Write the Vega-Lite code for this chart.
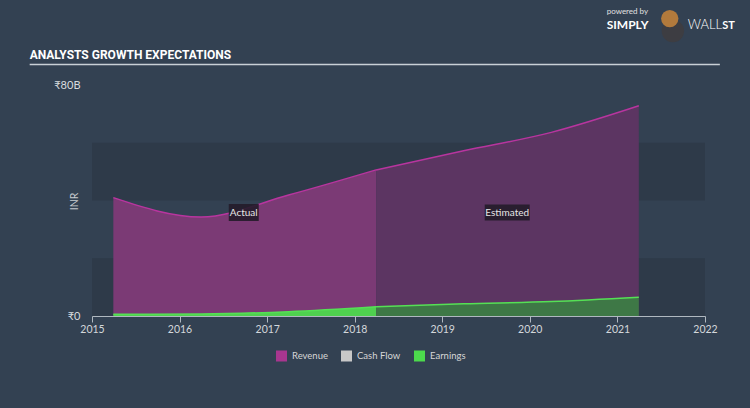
{
  "$schema": "https://vega.github.io/schema/vega-lite/v6.json",
  "width": 613,
  "height": 231,
  "autosize": {"type": "none"},
  "padding": {"left": 92, "top": 85, "right": 45, "bottom": 92},
  "background": "#334152",
  "config": {"view": {"stroke": null}, "font": "Lato"},
  "data": {
    "values": [
      {"date": "2015-03-31", "series": "Revenue", "phase": "Actual", "value": 41000000000},
      {"date": "2016-03-31", "series": "Revenue", "phase": "Actual", "value": 34300000000},
      {"date": "2017-03-31", "series": "Revenue", "phase": "Actual", "value": 41900000000},
      {"date": "2018-03-31", "series": "Revenue", "phase": "Actual", "value": 50600000000},
      {"date": "2018-03-31", "series": "Revenue", "phase": "Estimated", "value": 50600000000},
      {"date": "2019-03-31", "series": "Revenue", "phase": "Estimated", "value": 57200000000},
      {"date": "2020-03-31", "series": "Revenue", "phase": "Estimated", "value": 63600000000},
      {"date": "2021-03-31", "series": "Revenue", "phase": "Estimated", "value": 72800000000},
      {"date": "2015-03-31", "series": "Earnings", "phase": "Actual", "value": 600000000},
      {"date": "2016-03-31", "series": "Earnings", "phase": "Actual", "value": 700000000},
      {"date": "2017-03-31", "series": "Earnings", "phase": "Actual", "value": 1500000000},
      {"date": "2018-03-31", "series": "Earnings", "phase": "Actual", "value": 3200000000},
      {"date": "2018-03-31", "series": "Earnings", "phase": "Estimated", "value": 3200000000},
      {"date": "2019-03-31", "series": "Earnings", "phase": "Estimated", "value": 4200000000},
      {"date": "2020-03-31", "series": "Earnings", "phase": "Estimated", "value": 5000000000},
      {"date": "2021-03-31", "series": "Earnings", "phase": "Estimated", "value": 6500000000}
    ]
  },
  "layer": [
    {
      "data": {"values": [{"lo": 0, "hi": 20000000000}, {"lo": 40000000000, "hi": 60000000000}]},
      "mark": {"type": "rect", "color": "#2e3a49"},
      "encoding": {
        "x": {
          "datum": {"year": 2015, "month": 1, "date": 1, "utc": true}, "type": "temporal",
          "scale": {"type": "utc", "domain": [{"year": 2015, "month": 1, "date": 1, "utc": true}, {"year": 2022, "month": 1, "date": 1, "utc": true}]},
          "axis": {
            "values": [
              {"year": 2015, "month": 1, "date": 1, "utc": true},
              {"year": 2016, "month": 1, "date": 1, "utc": true},
              {"year": 2017, "month": 1, "date": 1, "utc": true},
              {"year": 2018, "month": 1, "date": 1, "utc": true},
              {"year": 2019, "month": 1, "date": 1, "utc": true},
              {"year": 2020, "month": 1, "date": 1, "utc": true},
              {"year": 2021, "month": 1, "date": 1, "utc": true},
              {"year": 2022, "month": 1, "date": 1, "utc": true}
            ],
            "format": "%Y", "title": null, "grid": false,
            "domainColor": "#b0b8c0", "tickColor": "#b0b8c0", "tickSize": 6,
            "labelColor": "#d4d7db", "labelFontSize": 10.5, "labelFont": "Lato",
            "labelPadding": 2, "labelFlush": false, "labelOverlap": false
          }
        },
        "x2": {"datum": {"year": 2022, "month": 1, "date": 1, "utc": true}},
        "y": {
          "field": "lo", "type": "quantitative",
          "scale": {"domain": [0, 80000000000], "nice": false},
          "axis": {
            "values": [0, 80000000000],
            "labelExpr": "datum.value == 0 ? '₹0' : '₹80B'",
            "title": "INR", "grid": false, "domain": false, "ticks": false, "tickSize": 0,
            "labelPadding": 12, "labelColor": "#d8dbde", "labelFontSize": 11, "labelFont": "Lato",
            "labelFlush": false, "labelBaseline": "middle",
            "titleX": -18, "titleY": 116, "titleBaseline": "middle", "titleAlign": "center",
            "titleFontWeight": "normal", "titleFontSize": 10.5, "titleColor": "#c8ccd0", "titleFont": "Lato"
          }
        },
        "y2": {"field": "hi"}
      }
    },
    {
      "transform": [{"filter": "datum.series == 'Revenue' && datum.phase == 'Actual'"}],
      "mark": {"type": "area", "interpolate": "monotone", "fill": "#7b3a75", "opacity": 1},
      "encoding": {
        "x": {"field": "date", "type": "temporal"},
        "y": {"field": "value", "type": "quantitative"}
      }
    },
    {
      "transform": [{"filter": "datum.series == 'Revenue' && datum.phase == 'Estimated'"}],
      "mark": {"type": "area", "interpolate": "monotone", "fill": "#5c3562", "opacity": 1},
      "encoding": {
        "x": {"field": "date", "type": "temporal"},
        "y": {"field": "value", "type": "quantitative"}
      }
    },
    {
      "transform": [{"filter": "datum.series == 'Revenue'"}],
      "mark": {"type": "line", "interpolate": "monotone", "stroke": "#b8359f", "strokeWidth": 1.5},
      "encoding": {
        "x": {"field": "date", "type": "temporal"},
        "y": {"field": "value", "type": "quantitative"},
        "detail": {"field": "phase"}
      }
    },
    {
      "transform": [{"filter": "datum.series == 'Earnings' && datum.phase == 'Actual'"}],
      "mark": {"type": "area", "interpolate": "monotone", "fill": "#4fd14f", "opacity": 1},
      "encoding": {
        "x": {"field": "date", "type": "temporal"},
        "y": {"field": "value", "type": "quantitative"}
      }
    },
    {
      "transform": [{"filter": "datum.series == 'Earnings' && datum.phase == 'Estimated'"}],
      "mark": {"type": "area", "interpolate": "monotone", "fill": "#3e7846", "opacity": 1},
      "encoding": {
        "x": {"field": "date", "type": "temporal"},
        "y": {"field": "value", "type": "quantitative"}
      }
    },
    {
      "transform": [{"filter": "datum.series == 'Earnings'"}],
      "mark": {"type": "line", "interpolate": "monotone", "stroke": "#55e055", "strokeWidth": 1.5},
      "encoding": {
        "x": {"field": "date", "type": "temporal"},
        "y": {"field": "value", "type": "quantitative"},
        "detail": {"field": "phase"}
      }
    },
    {
      "data": {"values": [{}]},
      "mark": {"type": "point", "shape": "M-1,-0.567L1,-0.567L1,0.567L-1,0.567Z", "size": 900, "filled": true, "fill": "#241c2a", "opacity": 0.9, "strokeWidth": 0},
      "encoding": {
        "x": {"datum": {"year": 2016, "month": 9, "date": 25, "utc": true}, "type": "temporal"},
        "y": {"datum": 35840000000, "type": "quantitative"}
      }
    },
    {
      "data": {"values": [{}]},
      "mark": {"type": "point", "shape": "M-1,-0.356L1,-0.356L1,0.356L-1,0.356Z", "size": 2025, "filled": true, "fill": "#241c2a", "opacity": 0.9, "strokeWidth": 0},
      "encoding": {
        "x": {"datum": {"year": 2019, "month": 9, "date": 29, "utc": true}, "type": "temporal"},
        "y": {"datum": 35840000000, "type": "quantitative"}
      }
    },
    {
      "data": {"values": [{}]},
      "mark": {"type": "text", "text": "Actual", "align": "center", "baseline": "middle", "fontSize": 10, "font": "Lato", "color": "#e6e6e6"},
      "encoding": {
        "x": {"datum": {"year": 2016, "month": 9, "date": 25, "utc": true}, "type": "temporal"},
        "y": {"datum": 35840000000, "type": "quantitative"}
      }
    },
    {
      "data": {"values": [{}]},
      "mark": {"type": "text", "text": "Estimated", "align": "center", "baseline": "middle", "fontSize": 10, "font": "Lato", "color": "#e6e6e6"},
      "encoding": {
        "x": {"datum": {"year": 2019, "month": 9, "date": 29, "utc": true}, "type": "temporal"},
        "y": {"datum": 35840000000, "type": "quantitative"}
      }
    },
    {
      "data": {"values": [{"series": "Revenue"}, {"series": "Cash Flow"}, {"series": "Earnings"}]},
      "mark": {"type": "square", "opacity": 0},
      "encoding": {
        "x": {"datum": {"year": 2016, "month": 1, "date": 1, "utc": true}, "type": "temporal"},
        "y": {"datum": 10000000000, "type": "quantitative"},
        "color": {
          "field": "series", "type": "nominal",
          "scale": {"domain": ["Revenue", "Cash Flow", "Earnings"], "range": ["#a8368f", "#c8c8c8", "#4cd94c"]},
          "legend": {
            "title": null, "orient": "none", "legendX": 184, "legendY": 265.5, "direction": "horizontal",
            "symbolType": "square", "symbolSize": 121, "symbolOpacity": 1, "symbolStrokeWidth": 0,
            "labelColor": "#d6d6d6", "labelFontSize": 9.5, "labelFont": "Lato", "labelOffset": 5,
            "columnPadding": 13, "padding": 0
          }
        }
      }
    },
    {
      "data": {"values": [{}]},
      "mark": {"type": "rule", "color": "#c9d0d6", "strokeWidth": 1.5},
      "encoding": {
        "x": {"datum": {"year": 2014, "month": 4, "date": 16, "utc": true}, "type": "temporal"},
        "x2": {"datum": {"year": 2022, "month": 3, "date": 4, "utc": true}},
        "y": {"datum": 87100000000, "type": "quantitative"}
      }
    },
    {
      "data": {"values": [{}]},
      "mark": {"type": "text", "text": "ANALYSTS GROWTH EXPECTATIONS", "align": "left", "baseline": "alphabetic", "fontSize": 12, "fontWeight": "bold", "font": "Roboto", "color": "#ffffff"},
      "encoding": {
        "x": {"datum": {"year": 2014, "month": 4, "date": 16, "utc": true}, "type": "temporal"},
        "y": {"datum": 89000000000, "type": "quantitative"}
      }
    },
    {
      "data": {"values": [{}]},
      "mark": {"type": "text", "text": "powered by", "align": "left", "baseline": "alphabetic", "fontSize": 8, "font": "Lato", "color": "#e0e0e0"},
      "encoding": {
        "x": {"datum": {"year": 2020, "month": 11, "date": 17, "utc": true}, "type": "temporal"},
        "y": {"datum": 104600000000, "type": "quantitative"}
      }
    },
    {
      "data": {"values": [{}]},
      "mark": {"type": "text", "text": "SIMPLY", "align": "left", "baseline": "alphabetic", "fontSize": 12, "fontWeight": "bold", "font": "Lato", "color": "#ffffff"},
      "encoding": {
        "x": {"datum": {"year": 2020, "month": 11, "date": 17, "utc": true}, "type": "temporal"},
        "y": {"datum": 99400000000, "type": "quantitative"}
      }
    },
    {
      "data": {"values": [{}]},
      "mark": {"type": "circle", "size": 500, "color": "#3d3d42", "opacity": 1},
      "encoding": {
        "x": {"datum": {"year": 2021, "month": 8, "date": 20, "utc": true}, "type": "temporal"},
        "y": {"datum": 98700000000, "type": "quantitative"}
      }
    },
    {
      "data": {"values": [{}]},
      "mark": {"type": "circle", "size": 300, "color": "#b27a3c", "opacity": 1},
      "encoding": {
        "x": {"datum": {"year": 2021, "month": 8, "date": 7, "utc": true}, "type": "temporal"},
        "y": {"datum": 103000000000, "type": "quantitative"}
      }
    },
    {
      "data": {"values": [{}]},
      "mark": {"type": "text", "text": "WALL", "align": "left", "baseline": "alphabetic", "fontSize": 13, "fontWeight": 300, "font": "Lato", "color": "#ffffff"},
      "encoding": {
        "x": {"datum": {"year": 2021, "month": 10, "date": 21, "utc": true}, "type": "temporal"},
        "y": {"datum": 99400000000, "type": "quantitative"}
      }
    },
    {
      "data": {"values": [{}]},
      "mark": {"type": "text", "text": "ST", "align": "left", "baseline": "alphabetic", "fontSize": 11, "fontWeight": "bold", "font": "Lato", "color": "#ffffff"},
      "encoding": {
        "x": {"datum": {"year": 2022, "month": 3, "date": 14, "utc": true}, "type": "temporal"},
        "y": {"datum": 99400000000, "type": "quantitative"}
      }
    }
  ]
}
